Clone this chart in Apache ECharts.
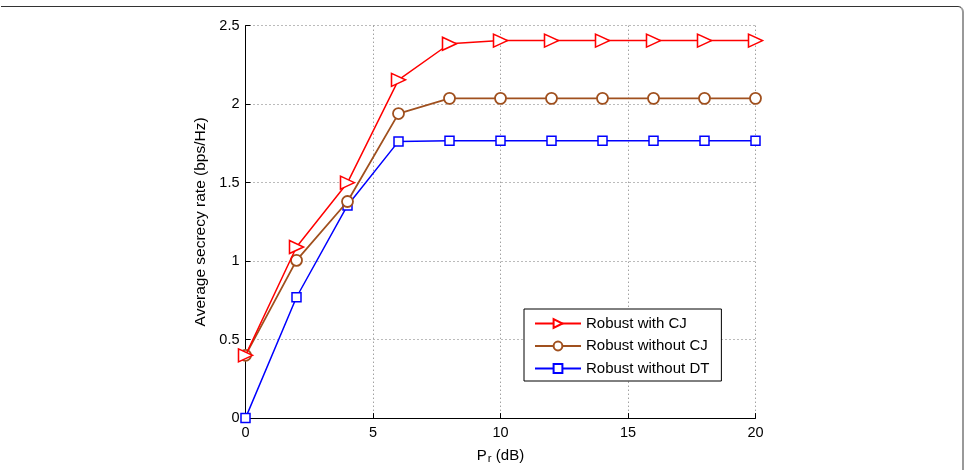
<!DOCTYPE html>
<html>
<head>
<meta charset="utf-8">
<script src="https://cdn.jsdelivr.net/npm/echarts@6/dist/echarts.min.js"></script>
<style>
  html, body { margin: 0; padding: 0; background: #fff; }
  #frame {
    position: absolute; left: 1px; top: 6px; width: 961px; height: 480px;
    border-top: 1.5px solid #333; border-right: 2px solid #999;
    border-top-right-radius: 6px;
  }
  #main { position: absolute; left: 0; top: 0; width: 966px; height: 470px; }
</style>
</head>
<body>
<div id="frame"></div>
<div id="main"></div>
<script>
var chartDom = document.getElementById('main');
var myChart = echarts.init(chartDom);
var option;

// Pr (dB)
var xVals = [0, 2, 4, 6, 8, 10, 12, 14, 16, 18, 20];
var withCJ = [0.40, 1.09, 1.50, 2.155, 2.385, 2.405, 2.405, 2.405, 2.405, 2.405, 2.405];
var withoutCJ = [0.40, 1.005, 1.38, 1.94, 2.037, 2.037, 2.037, 2.037, 2.037, 2.037, 2.037];
var withoutDT = [0.0, 0.77, 1.355, 1.763, 1.767, 1.767, 1.767, 1.767, 1.767, 1.767, 1.767];
var names = ['Robust with CJ', 'Robust without CJ', 'Robust without DT'];

function pairs(ys) {
  return xVals.map(function (x, i) { return [x, ys[i]]; });
}

var font = 'Liberation Sans, Arial, Helvetica, sans-serif';

option = {
  animation: false,
  grid: { left: 245.5, right: 210.5, top: 25.7, bottom: 48.7 },
  xAxis: {
    type: 'value', min: 0, max: 20, interval: 5,
    axisLine: { lineStyle: { color: '#000', width: 1 } },
    axisTick: { inside: true, length: 5, lineStyle: { color: '#000' } },
    axisLabel: { color: '#000', fontSize: 14.5, fontFamily: font, margin: 7 },
    splitLine: { show: true, lineStyle: { color: '#777', type: [1, 3], width: 1 } },
    name: '{p|P}{r|r}{p| (dB)}',
    nameLocation: 'middle',
    nameGap: 21,
    nameTextStyle: {
      color: '#000', fontFamily: font,
      rich: {
        p: { fontSize: 15, fontFamily: font, color: '#000', verticalAlign: 'top', lineHeight: 17 },
        r: { fontSize: 11.5, fontFamily: font, color: '#000', verticalAlign: 'bottom', lineHeight: 12, padding: [8, 0, 0, 1] }
      }
    }
  },
  yAxis: {
    type: 'value', min: 0, max: 2.5, interval: 0.5,
    axisLine: { show: true, lineStyle: { color: '#000', width: 1 } },
    axisTick: { show: true, inside: true, length: 5, lineStyle: { color: '#000' } },
    axisLabel: { color: '#000', fontSize: 14.5, fontFamily: font, margin: 6 },
    splitLine: { show: true, lineStyle: { color: '#777', type: [1, 3], width: 1 } },
    name: 'Average secrecy rate (bps/Hz)',
    nameLocation: 'middle',
    nameGap: 30,
    nameTextStyle: { color: '#000', fontSize: 15.5, fontFamily: font }
  },
  legend: {
    orient: 'vertical',
    left: 524, top: 309,
    width: 194,
    padding: [7, 12, 5, 10],
    itemGap: 7.5,
    itemWidth: 46,
    itemHeight: 11,
    backgroundColor: '#fff',
    borderColor: '#000',
    borderWidth: 1,
    borderRadius: 0,
    textStyle: { color: '#000', fontSize: 15, fontFamily: font },
    data: names
  },
  series: [
    {
      name: names[0], type: 'line', data: pairs(withCJ),
      symbol: 'triangle', symbolSize: [13, 14], symbolRotate: -90,
      lineStyle: { color: '#ff0000', width: 1.5 },
      itemStyle: { color: '#fff', borderColor: '#ff0000', borderWidth: 1.5 },
      z: 4
    },
    {
      name: names[1], type: 'line', data: pairs(withoutCJ),
      symbol: 'circle', symbolSize: 11,
      lineStyle: { color: '#a0501e', width: 1.8 },
      itemStyle: { color: '#fff', borderColor: '#a0501e', borderWidth: 1.8 },
      z: 3
    },
    {
      name: names[2], type: 'line', data: pairs(withoutDT),
      symbol: 'rect', symbolSize: 9,
      lineStyle: { color: '#0000ff', width: 1.5 },
      itemStyle: { color: '#fff', borderColor: '#0000ff', borderWidth: 1.5 },
      z: 2
    }
  ]
};

option && myChart.setOption(option);
</script>
</body>
</html>
